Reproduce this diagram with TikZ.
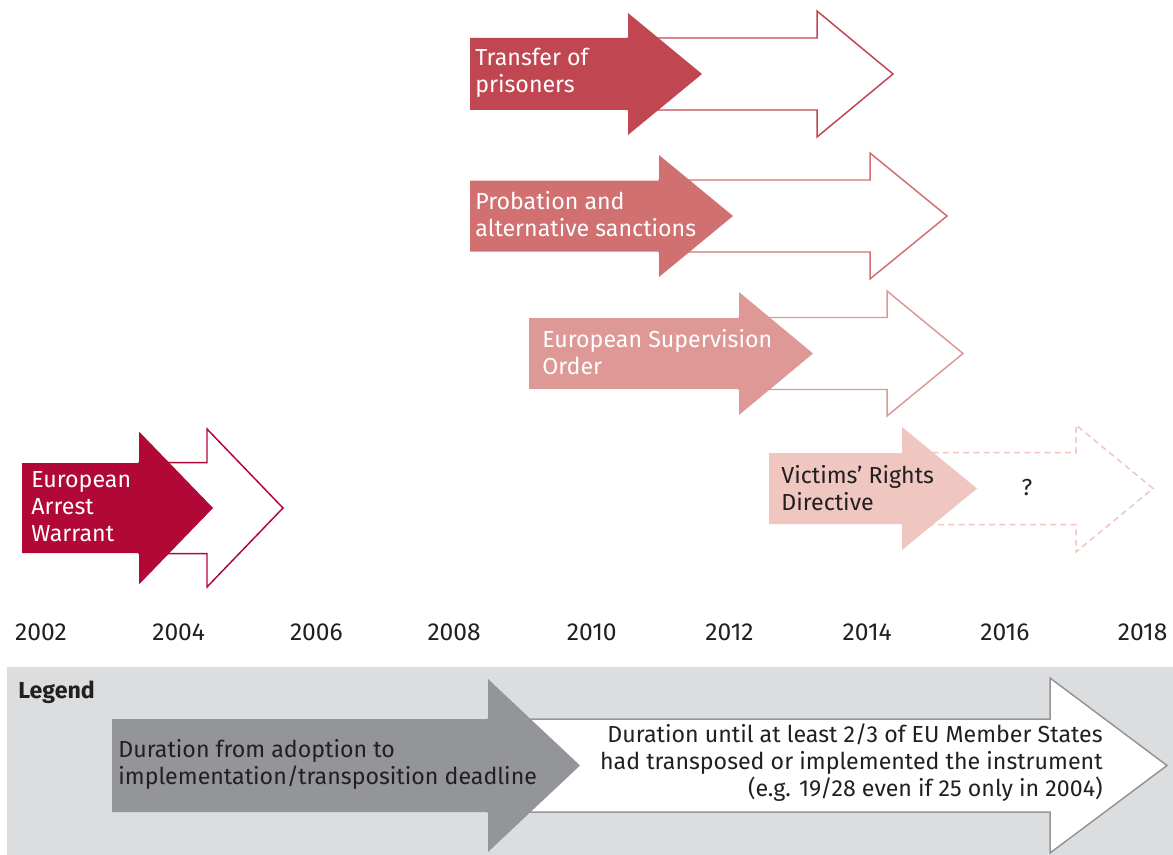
\documentclass[tikz,border=0pt]{standalone}
\usepackage{fontspec}
\setmainfont{Fira Sans}
\usepackage{tikz}
\usetikzlibrary{positioning}
\definecolor{eawred}{RGB}{178,8,56}
\definecolor{trared}{RGB}{192,71,81}
\definecolor{prored}{RGB}{208,112,112}
\definecolor{esored}{RGB}{222,153,150}
\definecolor{vicred}{RGB}{239,198,192}
\definecolor{leggray}{RGB}{147,149,152}
\definecolor{legback}{RGB}{220,221,223}
\definecolor{txtdark}{RGB}{35,31,32}
\tikzset{%
    lbl/.style={anchor=west,align=left,inner sep=0pt,font=\fontsize{13.2}{15.4}\selectfont},
    yr/.style={inner sep=0pt,text=txtdark,font=\fontsize{14}{16}\selectfont},
    fillarr/.style={fill=#1,draw=none},
    openarr/.style={draw=#1,fill=white,line width=0.85pt,line join=miter},
}
% left x, head base x, tip x, centre y, half shaft, half head
\newcommand{\tlarrow}[7][]{%
    \path[#1] (#2,#5-#6) -- (#3,#5-#6) -- (#3,#5-#7) -- (#4,#5)
        -- (#3,#5+#7) -- (#3,#5+#6) -- (#2,#5+#6) -- cycle;}

\begin{document}
\begin{tikzpicture}[x=0.02cm,y=-0.02cm]
    \useasboundingbox (0,0) rectangle (1173,855);
    % transfer of prisoners
    \tlarrow[openarr=trared]{628}{817}{893}{74}{36}{63}
    \tlarrow[fillarr=trared]{470}{628}{702}{74}{36}{61}
    \node [lbl,text=white] (tra) at (475,72.5) {Transfer of\\prisoners};
    % probation
    \tlarrow[openarr=prored]{659}{870}{947}{216}{36}{63}
    \tlarrow[fillarr=prored]{470}{659}{733}{216}{35.5}{61}
    \node [lbl,text=white] (pro) at (475,214) {Probation and\\alternative sanctions};
    % supervision order
    \tlarrow[openarr=esored]{739}{887}{963}{353.5}{36}{62.5}
    \tlarrow[fillarr=esored]{529}{739}{813}{353.5}{35.5}{61.5}
    \node [lbl,text=white] (eso) at (542,352.5) {European Supervision\\Order};
    % victims
    \tlarrow[openarr=vicred,dash pattern=on 3.4pt off 2.4pt]{902}{1076}{1153}{488.5}{36}{63.5}
    \tlarrow[fillarr=vicred]{769}{902}{977}{488.5}{35.5}{61.5}
    \node [lbl,text=txtdark] (vic) at (781,488.5) {Victims’ Rights\\Directive};
    \node [yr,font=\fontsize{13.2}{15.4}\selectfont] (unk) at (1027,488) {?};
    % arrest warrant
    \tlarrow[openarr=eawred]{139}{207}{283}{508}{45.5}{79}
    \tlarrow[fillarr=eawred]{22}{139}{213}{508}{45}{76.5}
    \node [lbl,text=white] (eaw) at (31,507) {European\\Arrest\\Warrant};
    % years
    \foreach \yy [count=\i from 0] in {2002,2004,...,2018}
        \node [yr] (y\yy) at (41+137.7*\i,632) {\yy};
    % legend
    \fill [legback] (7,667) rectangle (1173,855);
    \node [lbl,text=txtdark,font=\fontsize{13.2}{15.4}\selectfont\bfseries] (leg) at (18,692) {Legend};
    \tlarrow[openarr=leggray]{488}{1050}{1167}{765.5}{46.5}{87.5}
    \tlarrow[fillarr=leggray]{112}{488}{580}{765.5}{46.5}{86.5}
    \node [lbl,text=txtdark] (adop) at (118,764.5) {Duration from adoption to\\implementation/transposition deadline};
    \node [lbl,anchor=east,align=right,text=txtdark] (trans) at (1103,763) {Duration until at least 2/3 of EU Member States\\had transposed or implemented the instrument\\(e.g. 19/28 even if 25 only in 2004)};
\end{tikzpicture}
\end{document}
